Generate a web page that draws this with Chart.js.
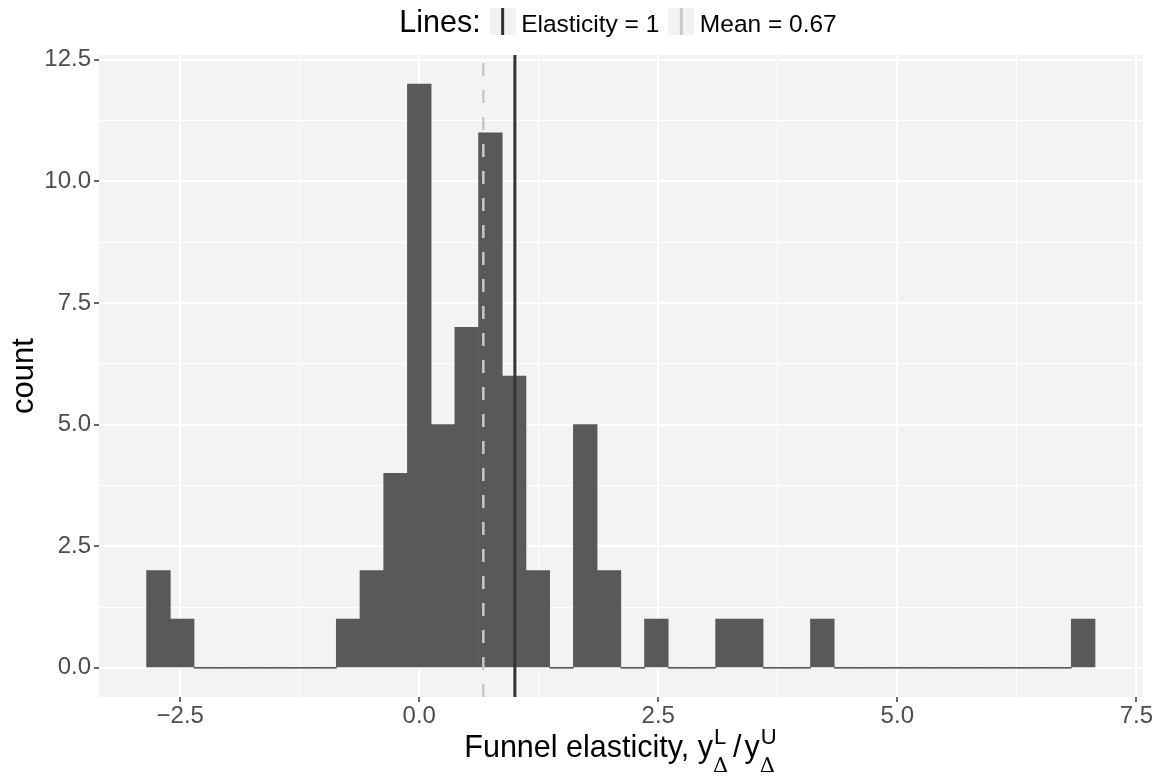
<!DOCTYPE html>
<html>
<head>
<meta charset="utf-8">
<script src="https://cdn.jsdelivr.net/npm/chart.js@4.4.1/dist/chart.umd.min.js"></script>
<style>
  html, body { margin: 0; padding: 0; background: #ffffff; }
  #wrap { width: 1162px; height: 778px; position: relative; }
</style>
</head>
<body>
<div id="wrap"><canvas id="hist"></canvas></div>
<script>
// histogram bins (centres) and counts
const binCenters = [-2.728, -2.48, -2.232, -1.984, -1.736, -1.488, -1.24, -0.992, -0.744, -0.496,
  -0.248, 0, 0.248, 0.496, 0.744, 0.992, 1.24, 1.488, 1.736, 1.984,
  2.232, 2.48, 2.728, 2.976, 3.224, 3.472, 3.72, 3.968, 4.216, 4.464,
  4.712, 4.96, 5.208, 5.456, 5.704, 5.952, 6.2, 6.448, 6.696, 6.944];
const counts = [2, 1, 0, 0, 0, 0, 0, 0, 1, 2,
  4, 12, 5, 7, 11, 6, 2, 0, 5, 2,
  0, 1, 0, 0, 1, 1, 0, 0, 1, 0,
  0, 0, 0, 0, 0, 0, 0, 0, 0, 1];

// reference lines
const lineLabels = ['Elasticity = 1', 'Mean = 0.67'];
const lineValues = [1, 0.67];

// axes
const xLimits = [-3.35, 7.57];
const yLimits = [-0.6, 12.6];
const xMajor = [-2.5, 0, 2.5, 5, 7.5];
const xMinor = [-1.25, 1.25, 3.75, 6.25];
const yMajor = [0, 2.5, 5, 7.5, 10, 12.5];
const yMinor = [1.25, 3.75, 6.25, 8.75, 11.25];

const SANS = '"Liberation Sans", Arial, Helvetica, sans-serif';
const fmtTick = v => v.toFixed(1).replace('-', '\u2212');

function buildTicks(major, minor) {
  return scale => {
    scale.ticks = major.concat(minor).sort((a, b) => a - b).map(v => ({ value: v }));
  };
}
const isMajor = (list, ctx) => ctx.tick && list.includes(ctx.tick.value);

const panelBackground = {
  id: 'panelBackground',
  beforeDraw(chart) {
    const { ctx, chartArea: a } = chart;
    ctx.save();
    ctx.fillStyle = '#f3f3f3';
    ctx.fillRect(a.left, a.top, a.right - a.left, a.bottom - a.top);
    ctx.restore();
  }
};

const axisTitles = {
  id: 'axisTitles',
  afterDraw(chart) {
    const { ctx, chartArea: a } = chart;
    ctx.save();
    ctx.fillStyle = '#000';
    ctx.translate(33, (a.top + a.bottom) / 2);
    ctx.rotate(-Math.PI / 2);
    ctx.font = '31px ' + SANS;
    ctx.textAlign = 'center';
    ctx.textBaseline = 'alphabetic';
    ctx.fillText('count', 0, 0);
    ctx.restore();

    // x title: Funnel elasticity, y^L_Δ / y^U_Δ
    const main = '30.5px ' + SANS;
    const script = '22px ' + SANS;
    const greek = '21px "DejaVu Serif", "Liberation Serif", serif';
    const parts = [
      { text: 'Funnel elasticity, y' },
      { sup: 'L', sub: '\u0394' },
      { text: '/', pad: 3 },
      { text: 'y' },
      { sup: 'U', sub: '\u0394' }
    ];
    ctx.save();
    ctx.fillStyle = '#000';
    ctx.textBaseline = 'alphabetic';
    ctx.textAlign = 'left';
    const widths = parts.map(p => {
      if (p.text) { ctx.font = main; return ctx.measureText(p.text).width + 2 * (p.pad || 0); }
      ctx.font = script; const w1 = ctx.measureText(p.sup).width;
      ctx.font = greek; const w2 = ctx.measureText(p.sub).width;
      return Math.max(w1, w2) + 2;
    });
    const total = widths.reduce((s, w) => s + w, 0);
    let x = (a.left + a.right) / 2 - total / 2;
    const base = 757;
    parts.forEach((p, i) => {
      if (p.text) {
        ctx.font = main;
        ctx.fillText(p.text, x + (p.pad || 0), base);
      } else {
        ctx.font = script;
        ctx.fillText(p.sup, x + 1, base - 13);
        ctx.font = greek;
        ctx.fillText(p.sub, x, base + 15);
      }
      x += widths[i];
    });
    ctx.restore();
  }
};

const lineLegend = {
  id: 'lineLegend',
  afterDraw(chart) {
    const { ctx, chartArea: a } = chart;
    const items = chart.data.datasets.filter(d => d.refLine);
    const titleFont = '30.5px ' + SANS;
    const labelFont = '24.5px ' + SANS;
    ctx.save();
    ctx.font = titleFont;
    const wTitle = ctx.measureText('Lines:').width;
    ctx.font = labelFont;
    const widths = items.map(d => ctx.measureText(d.label).width);
    const keyW = 26, keyH = 27, keyTop = 8, gapBig = 9, gapKey = 5.5;
    const total = wTitle + items.reduce((s, d, i) => s + gapBig + keyW + gapKey + widths[i], 0);
    let x = (a.left + a.right) / 2 - 3 - total / 2;
    const base = 32;
    ctx.textBaseline = 'alphabetic';
    ctx.fillStyle = '#000';
    ctx.font = titleFont;
    ctx.fillText('Lines:', x, base);
    x += wTitle;
    items.forEach((d, i) => {
      x += gapBig;
      ctx.fillStyle = '#f2f2f2';
      ctx.fillRect(x, keyTop, keyW, keyH);
      ctx.strokeStyle = d.borderColor;
      ctx.lineWidth = 3;
      ctx.beginPath();
      ctx.moveTo(x + keyW / 2, keyTop);
      ctx.lineTo(x + keyW / 2, keyTop + keyH);
      ctx.stroke();
      x += keyW + gapKey;
      ctx.fillStyle = '#000';
      ctx.font = labelFont;
      ctx.fillText(d.label, x, base);
      x += widths[i];
    });
    ctx.restore();
  }
};

const lineStyles = [
  { color: '#333333', width: 3, dash: [] },
  { color: '#c8c8c8', width: 2.5, dash: [13, 14] }
];

const datasets = [{
  type: 'bar',
  label: 'count',
  data: binCenters.map((c, i) => ({ x: c, y: counts[i] })),
  backgroundColor: '#595959',
  borderWidth: 0,
  barPercentage: 1,
  categoryPercentage: 1,
  minBarLength: 1,
  order: 2
}];
lineValues.forEach((v, i) => {
  datasets.push({
    type: 'line',
    label: lineLabels[i],
    refLine: true,
    data: [{ x: v, y: yLimits[0] }, { x: v, y: yLimits[1] }],
    borderColor: lineStyles[i].color,
    borderWidth: lineStyles[i].width,
    borderDash: lineStyles[i].dash,
    pointRadius: 0,
    fill: false,
    order: 1
  });
});

new Chart(document.getElementById('hist'), {
  type: 'bar',
  data: { datasets },
  options: {
    responsive: true,
    maintainAspectRatio: false,
    animation: false,
    layout: { padding: { top: 55, right: 19, bottom: 0, left: 0 } },
    plugins: {
      legend: { display: false },
      tooltip: { enabled: false }
    },
    scales: {
      x: {
        type: 'linear',
        min: xLimits[0],
        max: xLimits[1],
        offset: false,
        afterBuildTicks: buildTicks(xMajor, xMinor),
        afterFit: s => { s.height = 81; },
        border: { display: false },
        grid: {
          offset: false,
          color: '#ffffff',
          lineWidth: ctx => isMajor(xMajor, ctx) ? 2 : 1,
          tickColor: ctx => isMajor(xMajor, ctx) ? '#333333' : 'rgba(0,0,0,0)',
          tickLength: 5,
          tickWidth: 1.5
        },
        ticks: {
          autoSkip: false,
          maxRotation: 0,
          padding: 0,
          color: '#4d4d4d',
          font: { family: SANS, size: 24 },
          callback: v => xMajor.includes(v) ? fmtTick(v) : ''
        }
      },
      y: {
        min: yLimits[0],
        max: yLimits[1],
        afterBuildTicks: buildTicks(yMajor, yMinor),
        afterFit: s => { s.width = 99; },
        border: { display: false },
        grid: {
          color: '#ffffff',
          lineWidth: ctx => isMajor(yMajor, ctx) ? 2 : 1,
          tickColor: ctx => isMajor(yMajor, ctx) ? '#333333' : 'rgba(0,0,0,0)',
          tickLength: 5,
          tickWidth: 1.5
        },
        ticks: {
          autoSkip: false,
          padding: 3,
          color: '#4d4d4d',
          font: { family: SANS, size: 24 },
          callback: v => yMajor.includes(v) ? fmtTick(v) : ''
        }
      }
    }
  },
  plugins: [panelBackground, axisTitles, lineLegend]
});
</script>
</body>
</html>
